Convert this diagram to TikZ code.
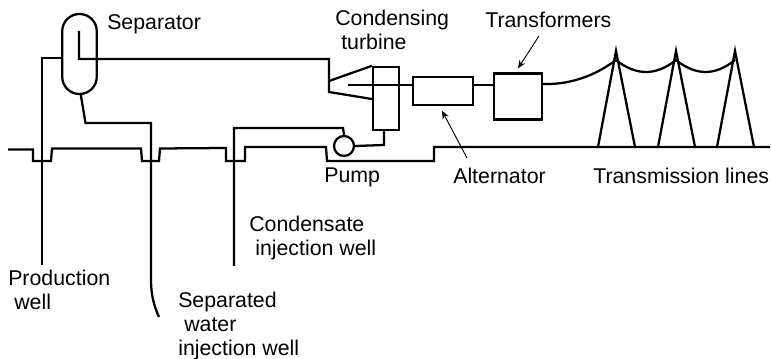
\documentclass[tikz,border=0pt]{standalone}
\usepackage{fontspec}
\usetikzlibrary{arrows.meta}
\setmainfont{Liberation Sans}
\begin{document}
\begin{tikzpicture}[
      x=0.75pt, y=-0.75pt,
      every node/.style={font=\fontsize{16}{18}\selectfont},
      pipe/.style={line width=1.7pt, line join=miter},
      unit/.style={rectangle, draw=black, line width=1.7pt, inner sep=0pt},
      label/.style={anchor=west, align=left, inner sep=0pt},
      pointer/.style={line width=0.7pt, -{Stealth[length=6pt, width=5pt]}}
  ]
    \useasboundingbox (0,0) rectangle (771,359);

    \node[unit, minimum width=25.9pt, minimum height=60pt, rounded corners=12.9pt] (separator) at (79.5,54) {};
    \node[unit, minimum width=19.5pt, minimum height=47.25pt] (condenser) at (386,98.5) {};
    \node[unit, minimum width=44.6pt, minimum height=21pt] (alternator) at (443,91) {};
    \node[unit, minimum width=36pt, minimum height=34.5pt] (transformer) at (518,96.5) {};
    \node[unit, circle, minimum size=15pt] (pump) at (344,146) {};

    \coordinate (prodend) at (42,265);
    \coordinate (sepend) at (151,280);
    \coordinate (condend) at (234,266);
    \coordinate (steam) at (79,31);
    \coordinate (shaft) at (348,85);

    % ground
    \draw[pipe] (8,149.5) -- (33,149.5) -- (33,161) -- (51,161) -- (52,148.5) -- (141,148.5) -- (142,161) -- (159,161) -- (160,148.5) -- (226,148) -- (226,161) -- (245,161) -- (245,147) -- (326,147) -- (327,161) -- (434,161) -- (434,147) -- (770,147);

    % wells
    \draw[pipe] (separator.west |- 0,58) -- (42,58) -- (prodend);
    \draw[pipe] ([xshift=1pt]separator.south) -- (85.5,123) -- (151,123) -- (sepend) .. controls (151,295) and (154,306) .. (159,317);
    \draw[pipe] (pump.north) -- (343,128) -- (234,128) -- (condend);
    \draw[pipe] (pump.east) -- (384,145) -- (condenser.south -| 384,0);

    % turbine
    \draw[pipe] (steam) -- (79,59) -- (329,59) -- (329,92) -- (condenser.west |- 0,99);
    \draw[pipe] (329,81) -- (condenser.north west);
    \draw[pipe] (shaft) -- (alternator.west |- shaft);
    \draw[pipe] (alternator.east |- shaft) -- (transformer.west |- shaft);

    % towers
    \foreach \x/\n in {616/one,676/two,735/three} {
      \coordinate (\n) at (\x,60);
      \draw[pipe] (\x-18,147) -- (\x,51) -- (\x+19,147);
    }
    \draw[pipe] (transformer.east |- 0,84) .. controls (575,85) and (600,72) .. (one);
    \draw[pipe] (one) .. controls +(20,16) and +(-20,16) .. (two);
    \draw[pipe] (two) .. controls +(20,16) and +(-20,16) .. (three);

    % labels
    \node[label] (seplabel) at (107,24) {Separator};
    \node[label] (turblabel) at (335,30) {Condensing\\[0pt]\hspace*{4.5pt}turbine};
    \node[label] (translabel) at (485,20) {Transformers};
    \node[label] (pumplabel) at (324,177) {Pump};
    \node[label] (altlabel) at (453,176) {Alternator};
    \node[label] (lineslabel) at (593,176) {Transmission lines};
    \node[label] (prodlabel) at (8,290) {Production\\\hspace*{4.5pt}well};
    \node[label] (condlabel) at (249,238) {Condensate\\\hspace*{4.5pt}injection well};
    \node[label] (seplabelb) at (178,326) {Separated\\\hspace*{4.5pt}water\\injection well};

    \draw[pointer] (467,158) -- ([yshift=-3.5pt]alternator.south -| 442,0);
    \draw[pointer] (539,36) -- ([yshift=3pt]transformer.north -| 518,0);
  \end{tikzpicture}
\end{document}
